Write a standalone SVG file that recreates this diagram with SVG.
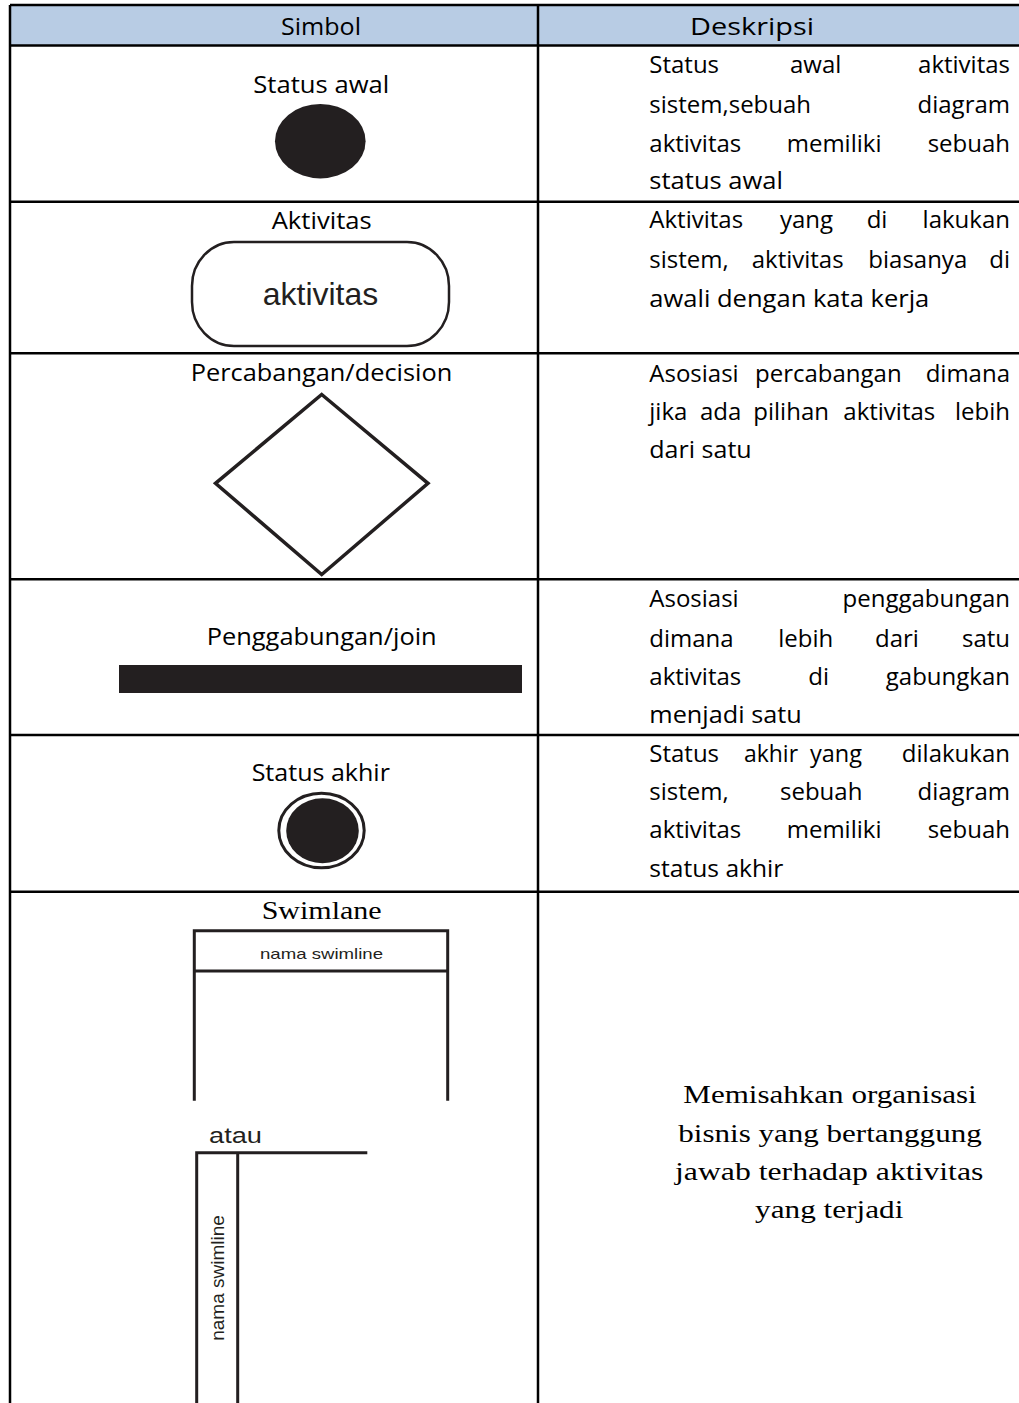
<svg xmlns="http://www.w3.org/2000/svg" width="1019" height="1403" viewBox="0 0 1019 1403">
<style>
  .grid { stroke: #000; stroke-width: 2.5; fill: none; }
  .lbl { font-family: "Open Sans", "Noto Sans", sans-serif; font-size: 23px; fill: #000; text-anchor: middle; }
  .desc { font-family: "Open Sans", "Noto Sans", sans-serif; font-size: 24px; fill: #000; }
  .end { text-anchor: end; }
  .serif { font-family: "Liberation Serif", "DejaVu Serif", serif; font-size: 25px; fill: #000; text-anchor: middle; }
  .arial { font-family: "Liberation Sans", Arial, sans-serif; fill: #231f20; }
  .shape { stroke: #231f20; fill: none; }
  .ink { fill: #231f20; }
</style>
<rect width="1019" height="1403" fill="#fff"/>

<g id="table">
  <rect x="10" y="5" width="1012" height="40.5" fill="#b8cce4"/>
  <line class="grid" x1="10" y1="5" x2="1019" y2="5"/>
  <line class="grid" x1="10" y1="45.5" x2="1019" y2="45.5"/>
  <line class="grid" x1="10" y1="201.7" x2="1019" y2="201.7"/>
  <line class="grid" x1="10" y1="353.3" x2="1019" y2="353.3"/>
  <line class="grid" x1="10" y1="579.3" x2="1019" y2="579.3"/>
  <line class="grid" x1="10" y1="735" x2="1019" y2="735"/>
  <line class="grid" x1="10" y1="891.7" x2="1019" y2="891.7"/>
  <line class="grid" x1="10" y1="5" x2="10" y2="1403"/>
  <line class="grid" x1="538" y1="5" x2="538" y2="1403"/>
  <text class="lbl" x="321" y="35" textLength="80" lengthAdjust="spacingAndGlyphs">Simbol</text>
  <text class="lbl" x="752" y="35" textLength="124" lengthAdjust="spacingAndGlyphs">Deskripsi</text>
</g>

<g id="status-awal">
  <text class="lbl" x="321.3" y="92.7" textLength="136" lengthAdjust="spacingAndGlyphs">Status awal</text>
  <ellipse class="ink" cx="320.3" cy="141.2" rx="45.3" ry="37.2"/>
  <text class="desc" x="649.3" y="73.3">Status</text>
  <text class="desc" x="790" y="73.3">awal</text>
  <text class="desc end" x="1010" y="73.3">aktivitas</text>
  <text class="desc" x="649.3" y="112.7">sistem,sebuah</text>
  <text class="desc end" x="1010" y="112.7">diagram</text>
  <text class="desc" x="649.3" y="151.7">aktivitas</text>
  <text class="desc" x="786.7" y="151.7">memiliki</text>
  <text class="desc end" x="1010" y="151.7">sebuah</text>
  <text class="desc" x="649.3" y="189.3" textLength="133.7" lengthAdjust="spacingAndGlyphs">status awal</text>
</g>

<g id="aktivitas">
  <text class="lbl" x="321.7" y="229.3" textLength="100" lengthAdjust="spacingAndGlyphs">Aktivitas</text>
  <rect class="shape" x="192" y="242" width="257" height="104" rx="42" ry="44" stroke-width="2.5"/>
  <text class="arial" x="320.5" y="305" font-size="32" text-anchor="middle">aktivitas</text>
  <text class="desc" x="649.3" y="228.3">Aktivitas</text>
  <text class="desc" x="780" y="228.3">yang</text>
  <text class="desc" x="866.7" y="228.3">di</text>
  <text class="desc end" x="1010" y="228.3">lakukan</text>
  <text class="desc" x="649.3" y="268.3">sistem,</text>
  <text class="desc" x="751.7" y="268.3">aktivitas</text>
  <text class="desc" x="868.3" y="268.3">biasanya</text>
  <text class="desc end" x="1010" y="268.3">di</text>
  <text class="desc" x="649.3" y="306.7" textLength="280" lengthAdjust="spacingAndGlyphs">awali dengan kata kerja</text>
</g>

<g id="decision">
  <text class="lbl" x="321.5" y="381" textLength="261.6" lengthAdjust="spacingAndGlyphs">Percabangan/decision</text>
  <polygon class="shape" points="321.7,394.5 428,483.3 321.7,574.5 215.5,483.3" stroke-width="3.5"/>
  <text class="desc" x="649.3" y="381.7">Asosiasi</text>
  <text class="desc" x="755" y="381.7">percabangan</text>
  <text class="desc end" x="1010" y="381.7">dimana</text>
  <text class="desc" x="649.3" y="420">jika</text>
  <text class="desc" x="700" y="420">ada</text>
  <text class="desc" x="753.3" y="420">pilihan</text>
  <text class="desc" x="843.3" y="420">aktivitas</text>
  <text class="desc end" x="1010" y="420">lebih</text>
  <text class="desc" x="649.3" y="458.3" textLength="102.4" lengthAdjust="spacingAndGlyphs">dari satu</text>
</g>

<g id="join">
  <text class="lbl" x="321.7" y="645" textLength="230" lengthAdjust="spacingAndGlyphs">Penggabungan/join</text>
  <rect class="ink" x="119" y="665" width="403" height="28"/>
  <text class="desc" x="649.3" y="606.7">Asosiasi</text>
  <text class="desc end" x="1010" y="606.7">penggabungan</text>
  <text class="desc" x="649.3" y="646.7">dimana</text>
  <text class="desc" x="778.3" y="646.7">lebih</text>
  <text class="desc" x="875" y="646.7">dari</text>
  <text class="desc end" x="1010" y="646.7">satu</text>
  <text class="desc" x="649.3" y="685">aktivitas</text>
  <text class="desc" x="808.3" y="685">di</text>
  <text class="desc end" x="1010" y="685">gabungkan</text>
  <text class="desc" x="649.3" y="723.3" textLength="152.4" lengthAdjust="spacingAndGlyphs">menjadi satu</text>
</g>

<g id="status-akhir">
  <text class="lbl" x="320.8" y="780.7" textLength="138.3" lengthAdjust="spacingAndGlyphs">Status akhir</text>
  <ellipse class="shape" cx="321.5" cy="830.5" rx="42.7" ry="37.3" stroke-width="3"/>
  <ellipse class="ink" cx="322.5" cy="830.8" rx="36.3" ry="32.5"/>
  <text class="desc" x="649.3" y="761.7">Status</text>
  <text class="desc" x="744" y="761.7" textLength="54" lengthAdjust="spacingAndGlyphs">akhir</text>
  <text class="desc" x="810" y="761.7" textLength="52" lengthAdjust="spacingAndGlyphs">yang</text>
  <text class="desc end" x="1010" y="761.7">dilakukan</text>
  <text class="desc" x="649.3" y="800">sistem,</text>
  <text class="desc" x="780" y="800">sebuah</text>
  <text class="desc end" x="1010" y="800">diagram</text>
  <text class="desc" x="649.3" y="838.3">aktivitas</text>
  <text class="desc" x="786.7" y="838.3">memiliki</text>
  <text class="desc end" x="1010" y="838.3">sebuah</text>
  <text class="desc" x="649.3" y="876.7" textLength="134" lengthAdjust="spacingAndGlyphs">status akhir</text>
</g>

<g id="swimlane">
  <text class="serif" x="321.7" y="919.3" font-size="24" textLength="120" lengthAdjust="spacingAndGlyphs">Swimlane</text>
  <path class="shape" d="M194.3,1100.7 V930.7 H447.7 V1100.7 M194.3,971 H447.7" stroke-width="3"/>
  <text class="arial" x="321.5" y="959" font-size="15" text-anchor="middle" textLength="123" lengthAdjust="spacingAndGlyphs">nama swimline</text>
  <text class="arial" x="209" y="1143" font-size="22.5" textLength="53" lengthAdjust="spacingAndGlyphs">atau</text>
  <path class="shape" d="M367.3,1152.7 H196.7 V1403 M237.7,1152.7 V1403" stroke-width="3"/>
  <text class="arial" x="0" y="0" font-size="19" text-anchor="middle" transform="translate(224,1278) rotate(-90)">nama swimline</text>
  <text class="serif" x="830" y="1103.3" textLength="293.4" lengthAdjust="spacingAndGlyphs">Memisahkan organisasi</text>
  <text class="serif" x="830" y="1141.7" textLength="303.4" lengthAdjust="spacingAndGlyphs">bisnis yang bertanggung</text>
  <text class="serif" x="829.2" y="1180" textLength="308.3" lengthAdjust="spacingAndGlyphs">jawab terhadap aktivitas</text>
  <text class="serif" x="829.2" y="1218" textLength="148.3" lengthAdjust="spacingAndGlyphs">yang terjadi</text>
</g>
</svg>
